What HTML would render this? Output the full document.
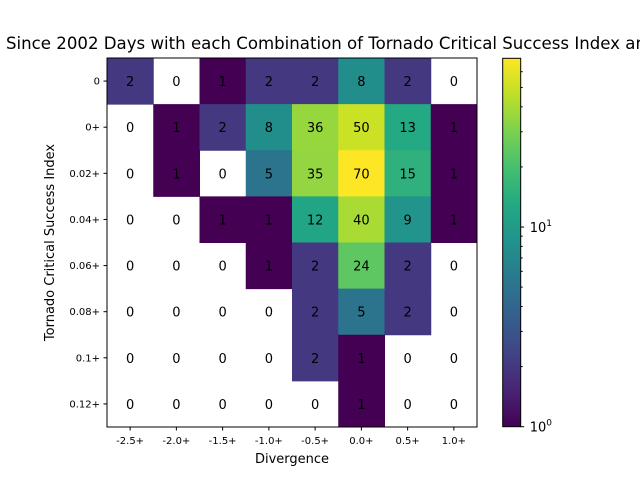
<!DOCTYPE html>
<html><head><meta charset="utf-8"><style>
body{margin:0;background:#fff;}
svg{display:block;font-family:"DejaVu Sans","Liberation Sans",sans-serif;}
</style></head><body>
<svg id="chart" width="640" height="480" viewBox="0 0 640 480" xmlns="http://www.w3.org/2000/svg">
<text x="6" y="49" font-size="16.6" fill="#000">Since 2002 Days with each Combination of Tornado Critical Success Index and Divergence</text>
<g id="cells"></g><g id="axes"></g><g id="cbar"></g>
</svg>
<script>
const xCategories = ["-2.5+","-2.0+","-1.5+","-1.0+","-0.5+","0.0+","0.5+","1.0+"];
const yCategories = ["0","0+","0.02+","0.04+","0.06+","0.08+","0.1+","0.12+"];
const row0 = [2,0,1,2,2,8,2,0];
const row1 = [0,1,2,8,36,50,13,1];
const row2 = [0,1,0,5,35,70,15,1];
const row3 = [0,0,1,1,12,40,9,1];
const row4 = [0,0,0,1,2,24,2,0];
const row5 = [0,0,0,0,2,5,2,0];
const row6 = [0,0,0,0,2,1,0,0];
const row7 = [0,0,0,0,0,1,0,0];
const rows = [row0,row1,row2,row3,row4,row5,row6,row7];
const cbarMajorTicks = [1,10];
const cbarMinorTicks = [2,3,4,5,6,7,8,9,20,30,40,50,60];

const NS="http://www.w3.org/2000/svg";
const L=107,R=477,T=58,B=427;
const vmax=Math.max(...rows.flat()), vmin=1;
const cw=(R-L)/xCategories.length, ch=(B-T)/yCategories.length;
const xPos=i=>L+i*cw, yPos=j=>T+j*ch;
const norm=v=>Math.log10(v/vmin)/Math.log10(vmax/vmin);
const CB={l:502.7,r:520.7,t:58.3,b:426.7};
const cbY=v=>CB.b-norm(v)*(CB.b-CB.t);
const vir=[[68,1,84],[72,36,117],[65,68,135],[53,95,141],[42,120,142],[33,145,140],[34,168,132],[68,190,112],[122,209,81],[189,223,38],[253,231,37]];
function viridis(t){t=Math.max(0,Math.min(1,t));const p=t*(vir.length-1),i=Math.min(Math.floor(p),vir.length-2),f=p-i;
 const c=vir[i].map((a,k)=>Math.round(a+(vir[i+1][k]-a)*f));return `rgb(${c[0]},${c[1]},${c[2]})`;}
function mk(tag,attrs,parent,text){const e=document.createElementNS(NS,tag);for(const k in attrs)e.setAttribute(k,attrs[k]);if(text!==undefined)e.textContent=text;parent.appendChild(e);return e;}

const cells=document.getElementById('cells');
rows.forEach((row,j)=>row.forEach((v,i)=>{
 if(v>0){const r=mk('rect',{x:xPos(i),y:yPos(j),width:cw+0.5,height:ch+0.5,fill:viridis(norm(v))},cells);
  
  }
 const t=mk('text',{x:xPos(i)+cw/2,y:yPos(j)+ch/2+5,'text-anchor':'middle','font-size':'13',fill:'#000'},cells,String(v));
 
 
}));
const ax=document.getElementById('axes');
mk('rect',{x:L,y:T,width:R-L,height:B-T,fill:'none',stroke:'#000','stroke-width':1},ax);
xCategories.forEach((c,i)=>{const x=xPos(i)+cw/2;mk('line',{x1:x,x2:x,y1:B,y2:B+3.5,stroke:'#000'},ax);
 const t=mk('text',{x:x,y:B+17,'text-anchor':'middle','font-size':'10'},ax,c);
 
 });
yCategories.forEach((c,j)=>{const y=yPos(j)+ch/2;mk('line',{x1:L-3.5,x2:L,y1:y,y2:y,stroke:'#000'},ax);
 const t=mk('text',{x:L-7,y:y+3.5,'text-anchor':'end','font-size':'10'},ax,c);
 
 });
const xt=mk('text',{x:(L+R)/2,y:463,'text-anchor':'middle','font-size':'13'},ax,'Divergence');


const yt=mk('text',{x:0,y:0,'text-anchor':'middle','font-size':'13',transform:`translate(54,${(T+B)/2}) rotate(-90)`},ax,'Tornado Critical Success Index');



const cb=document.getElementById('cbar');
const defs=mk('defs',{},cb);const g=mk('linearGradient',{id:'vg',x1:0,y1:1,x2:0,y2:0},defs);
for(let k=0;k<=20;k++)mk('stop',{offset:k/20,'stop-color':viridis(k/20)},g);
const cr=mk('rect',{x:CB.l,y:CB.t,width:CB.r-CB.l,height:CB.b-CB.t,fill:'url(#vg)',stroke:'#000','stroke-width':1},cb);


cbarMinorTicks.forEach(v=>{if(v<=vmax){const y=cbY(v);mk('line',{x1:CB.r,x2:CB.r+2,y1:y,y2:y,stroke:'#000'},cb);}});
cbarMajorTicks.forEach((v,k)=>{const y=cbY(v);mk('line',{x1:CB.r,x2:CB.r+3.5,y1:y,y2:y,stroke:'#000'},cb);
 const t=mk('text',{x:CB.r+9,y:y+5,'font-size':'13'},cb);
 
 
 mk('tspan',{},t,'10');mk('tspan',{dy:-6,'font-size':'9'},t,String(Math.round(Math.log10(v))));});
</script>
</body></html>
